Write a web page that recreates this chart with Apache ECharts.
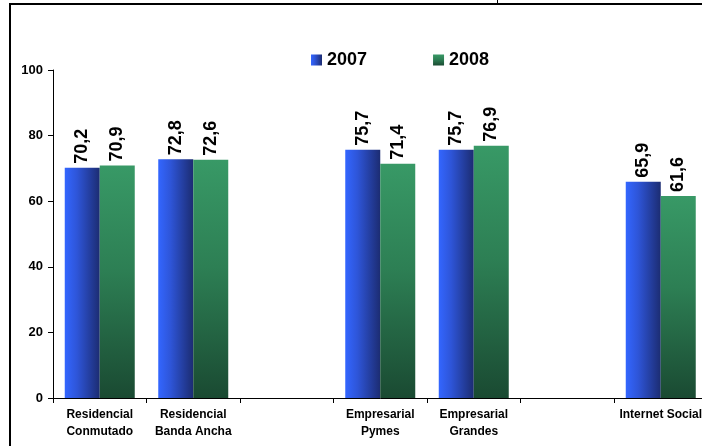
<!DOCTYPE html>
<html>
<head>
<meta charset="utf-8">
<script src="https://cdn.jsdelivr.net/npm/echarts@6/dist/echarts.min.js"></script>
<style>
html,body{margin:0;padding:0;background:#fff;overflow:hidden;}
#chart{width:708px;height:446px;}
</style>
</head>
<body>
<div id="chart"></div>
<script>
var categories = ['Residencial\nConmutado', 'Residencial\nBanda Ancha', '', 'Empresarial\nPymes', 'Empresarial\nGrandes', '', 'Internet Social'];
var seriesNames = ['2007', '2008'];
var values2007 = [70.2, 72.8, null, 75.7, 75.7, null, 65.9];
var values2008 = [70.9, 72.6, null, 71.4, 76.9, null, 61.6];
var yTicks = {min: 0, max: 100, interval: 20};

var chart = echarts.init(document.getElementById('chart'), null, {renderer: 'canvas'});
var font = 'Arial, "Liberation Sans", sans-serif';
var blueGrad = new echarts.graphic.LinearGradient(0, 0, 1, 0, [
  {offset: 0, color: '#3366ff'},
  {offset: 0.35, color: '#2e55d8'},
  {offset: 1, color: '#1c2c72'}
]);
var greenGrad = new echarts.graphic.LinearGradient(0, 0, 0, 1, [
  {offset: 0, color: '#389966'},
  {offset: 0.45, color: '#2d7f54'},
  {offset: 1, color: '#1a4a32'}
]);
function lbl() {
  return {
    show: true,
    position: 'top',
    rotate: 90,
    align: 'left',
    verticalAlign: 'middle',
    distance: 4,
    fontSize: 18,
    fontWeight: 'bold',
    fontFamily: font,
    color: '#000',
    formatter: function (p) { return p.value == null ? '' : String(p.value.toFixed(1)).replace('.', ','); }
  };
}
var option = {
  animation: false,
  backgroundColor: '#fff',
  legend: {
    left: 306,
    top: 46,
    itemWidth: 11,
    itemHeight: 11,
    itemGap: 66,
    icon: 'rect',
    textStyle: {fontSize: 18, fontWeight: 'bold', fontFamily: font, color: '#000'},
    data: seriesNames
  },
  grid: {left: 53, top: 70, width: 654.5, height: 328, containLabel: false},
  xAxis: {
    type: 'category',
    data: categories,
    boundaryGap: true,
    axisLine: {lineStyle: {color: '#000', width: 1}},
    axisTick: {show: true, length: 5, alignWithLabel: false, lineStyle: {color: '#000'}},
    axisLabel: {interval: 0, margin: 8, fontSize: 12, fontWeight: 'bold', fontFamily: font, color: '#000', lineHeight: 17}
  },
  yAxis: {
    type: 'value',
    min: yTicks.min, max: yTicks.max, interval: yTicks.interval,
    splitLine: {show: false},
    axisLine: {show: true, lineStyle: {color: '#000', width: 1}},
    axisTick: {show: true, length: 5, lineStyle: {color: '#000'}},
    axisLabel: {margin: 10, fontSize: 13, fontWeight: 'bold', fontFamily: font, color: '#000'}
  },
  series: [
    {name: seriesNames[0], type: 'bar', data: values2007, barWidth: 35, barGap: '0%', itemStyle: {color: blueGrad}, label: lbl()},
    {name: seriesNames[1], type: 'bar', data: values2008, barWidth: 35, barGap: '0%', itemStyle: {color: greenGrad}, label: lbl()}
  ],
  graphic: [
    {type: 'line', shape: {x1: 10, y1: 4, x2: 10, y2: 446}, style: {stroke: '#000', lineWidth: 2}},
    {type: 'line', shape: {x1: 9, y1: 4, x2: 708, y2: 4}, style: {stroke: '#000', lineWidth: 2}},
    {type: 'line', shape: {x1: 497.5, y1: 0, x2: 497.5, y2: 4}, style: {stroke: '#000', lineWidth: 1}}
  ]
};
chart.setOption(option);
</script>
</body>
</html>
